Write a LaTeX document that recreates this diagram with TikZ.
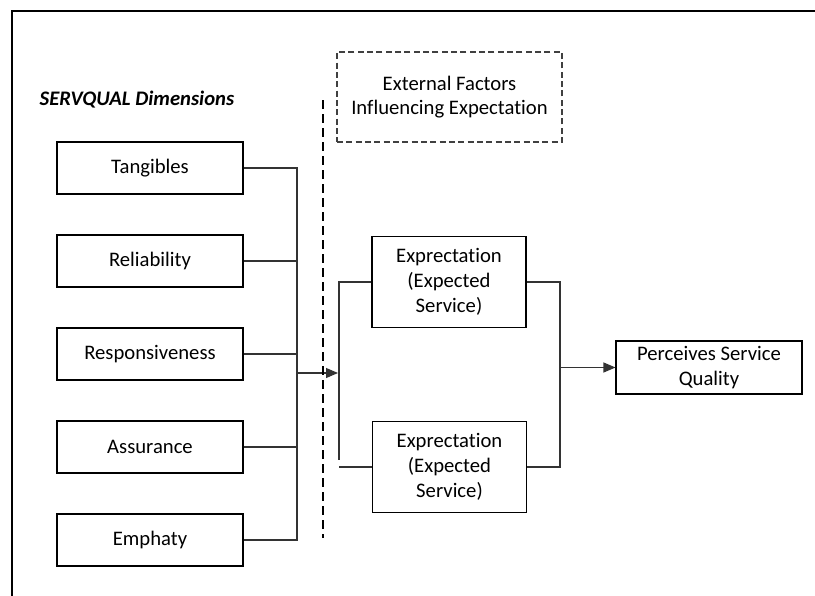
\documentclass[tikz,border=0pt]{standalone}
\usepackage{fontspec}
\setmainfont{Carlito}[Ligatures=NoCommon]
\usetikzlibrary{arrows.meta}
\begin{document}
\begin{tikzpicture}[x=0.75pt,y=-0.75pt,
  dimbox/.style={draw=black,line width=0.8pt,minimum width=139.5pt,minimum height=39pt,inner sep=0pt,font=\fontsize{15.5}{18.5}\selectfont},
  expbox/.style={draw=black,line width=0.8pt,minimum width=115.5pt,minimum height=68.25pt,inner sep=0pt,align=center,font=\fontsize{15.5}{18.75}\selectfont},
  extbox/.style={draw=black!75,line width=0.8pt,dash pattern=on 4.5pt off 2.5pt,minimum width=168.75pt,minimum height=67.5pt,inner sep=0pt,align=center,font=\fontsize{15.5}{18}\selectfont},
  percbox/.style={draw=black,line width=0.8pt,minimum width=139.5pt,minimum height=39.75pt,inner sep=0pt,align=center,font=\fontsize{15.5}{18.5}\selectfont},
  conn/.style={draw=black!80,line width=0.8pt},
  arr/.style={conn,-{Triangle[length=9pt,width=7.5pt]}},
  dline/.style={draw=black,line width=0.8pt,dash pattern=on 7pt off 3.5pt}
]
\useasboundingbox (0,0) rectangle (815,596);
\draw[line width=1.5pt] (12,596) -- (12,11) -- (815,11);

\node (servq) at (137,100) {\fontsize{15.5}{17}\selectfont\bfseries\itshape SERVQUAL Dimensions};

\node[dimbox] (tang) at (150,168) {Tangibles};
\node[dimbox] (rel)  at (150,261) {Reliability};
\node[dimbox] (resp) at (150,354) {Responsiveness};
\node[dimbox] (assu) at (150,447) {Assurance};
\node[dimbox] (emph) at (150,540) {Emphaty};

\node[extbox] (ext) at (449.5,97) {External Factors\\Influencing Expectation};

\node[expbox] (exp1) at (449,282) {Exprectation\\(Expected\\Service)};
\node[expbox] (exp2) at (449.5,467) {Exprectation\\(Expected\\Service)};

\node[percbox] (perc) at (709,367.5) {Perceives Service\\Quality};

\coordinate (busT) at (297,168);
\coordinate (busB) at (297,540);
\coordinate (arrS) at (297,373);
\coordinate (arrE) at (338,373);
\coordinate (dv1) at (323,100);
\coordinate (dv2) at (323,538);
\coordinate (inT) at (339,282);
\coordinate (inB) at (339,460);
\coordinate (inB2) at (339,467);
\coordinate (outT) at (560,282);
\coordinate (outB) at (560,467);
\coordinate (outM) at (560,367.5);

\draw[conn] (tang.east) -- (busT) -- (busB) -- (emph.east);
\draw[conn] (rel.east) -- (rel.east -| busT);
\draw[conn] (resp.east) -- (resp.east -| busT);
\draw[conn] (assu.east) -- (assu.east -| busT);
\draw[arr] (arrS) -- (arrE);

\draw[dline] (dv1) -- (dv2);

\draw[conn] (exp1.west) -- (inT) -- (inB);
\draw[conn] (inB2) -- (exp2.west);
\draw[conn] (exp1.east) -- (outT) -- (outB) -- (exp2.east);
\draw[arr] (outM) -- (perc.west);
\end{tikzpicture}
\end{document}
